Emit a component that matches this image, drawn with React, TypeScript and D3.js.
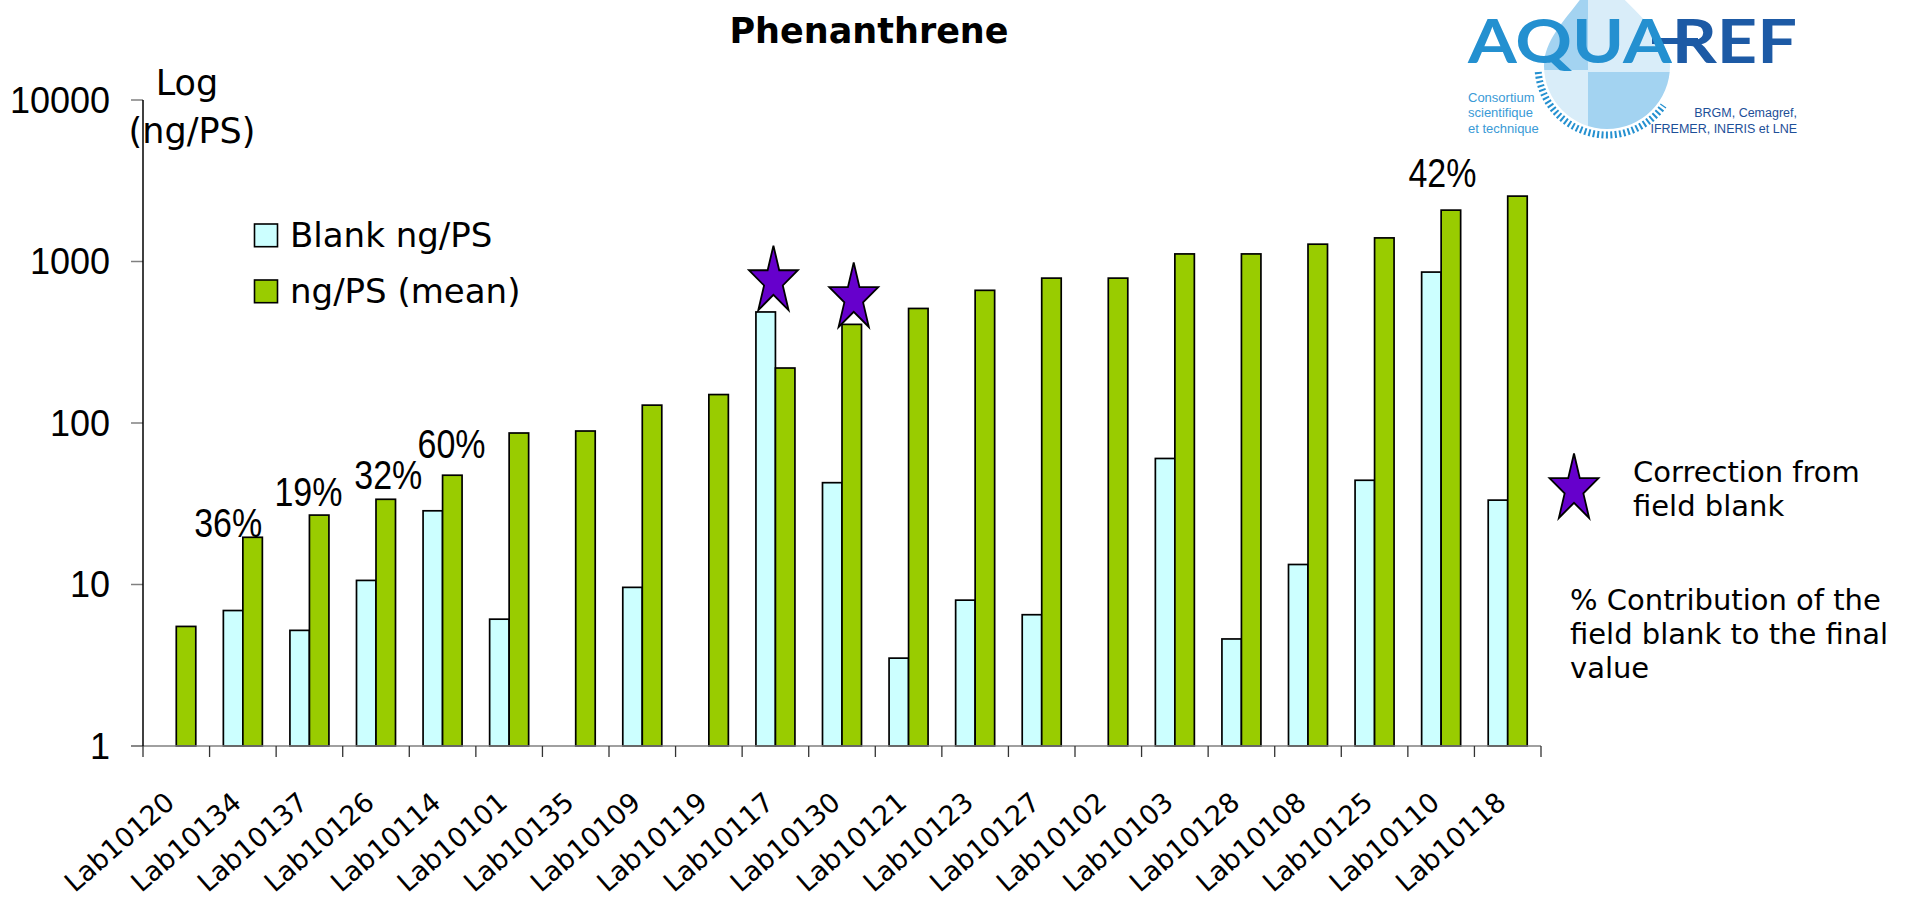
import React from "react";
import * as d3 from "d3";

// ---- data ----
const labs = [
  "Lab10120", "Lab10134", "Lab10137", "Lab10126", "Lab10114", "Lab10101", "Lab10135",
  "Lab10109", "Lab10119", "Lab10117", "Lab10130", "Lab10121", "Lab10123", "Lab10127",
  "Lab10102", "Lab10103", "Lab10128", "Lab10108", "Lab10125", "Lab10110", "Lab10118",
];
const blankValues: (number | null)[] = [
  null, 6.9, 5.2, 10.6, 28.6, 6.1, null, 9.6, null, 487, 42.7, 3.5, 8.0, 6.5, null, 60.3,
  4.6, 13.3, 44.2, 860, 33.3,
];
const meanValues: number[] = [
  5.5, 19.6, 26.9, 33.7, 47.5, 86.7, 89.2, 129, 150, 219, 408, 512, 663, 789, 789, 1114,
  1114, 1280, 1400, 2080, 2540,
];
const yTicks = [1, 10, 100, 1000, 10000];
const seriesNames = ["Blank ng/PS", "ng/PS (mean)"];

// percentage annotations (contribution of the field blank)
const pctLabs = ["Lab10134", "Lab10137", "Lab10126", "Lab10114", "Lab10110"];
const pctTexts = ["36%", "19%", "32%", "60%", "42%"];
const pctAt = [19.8, 30.6, 38.9, 61, 2900];

// stars: correction from field blank
const starLabs = ["Lab10117", "Lab10130"];
const starAt = [500, 393];

const SANS = "'DejaVu Sans', Verdana, sans-serif";
const ARIAL = "'Liberation Sans', Arial, sans-serif";
const BLANK_FILL = "#CCFFFF";
const MEAN_FILL = "#99CC00";
const STAR_FILL = "#6600CC";

function starPoints(cx: number, yb: number, w: number, h: number): string {
  const sx = w / (2 * Math.cos(Math.PI / 10));
  const sy = h / (1 + Math.cos(Math.PI / 5));
  const cy = yb - Math.cos(Math.PI / 5) * sy;
  const pts: string[] = [];
  for (let k = 0; k < 10; k++) {
    const r = k % 2 === 0 ? 1 : 0.382;
    const a = -Math.PI / 2 + (k * Math.PI) / 5;
    pts.push(`${cx + r * Math.cos(a) * sx},${cy + r * Math.sin(a) * sy}`);
  }
  return pts.join(" ");
}

function Logo() {
  const cx = 1607, cy = 66, r = 63;
  const drop = `M 1597,-30 C 1585,5 ${cx - r},30 ${cx - r},${cy} A ${r} ${r} 0 0 0 ${cx + r},${cy} C ${cx + r},35 1625,5 1597,-30 Z`;
  const ar = 69;
  const a0 = (175 * Math.PI) / 180, a1 = (35 * Math.PI) / 180;
  const arc = `M ${cx + ar * Math.cos(a0)},${cy + ar * Math.sin(a0)} A ${ar} ${ar} 0 0 0 ${cx + ar * Math.cos(a1)},${cy + ar * Math.sin(a1)}`;
  return (
    <g>
      <defs>
        <clipPath id="dropClip">
          <path d={drop} />
        </clipPath>
      </defs>
      <g clipPath="url(#dropClip)">
        <rect x={1500} y={-40} width={88} height={110} fill="#a3d3f1" />
        <rect x={1588} y={-40} width={112} height={112} fill="#d9edf9" />
        <rect x={1500} y={70} width={88} height={80} fill="#d9edf9" />
        <rect x={1588} y={72} width={112} height={80} fill="#a3d3f1" />
      </g>
      <path d={arc} fill="none" stroke="#2490d0" strokeWidth={7} strokeDasharray="2 2.4" />
      <rect x={1652} y={38} width={46} height={6} fill="#1d5aa5" />
      <text x={1468} y={63} fontFamily="Lato, 'DejaVu Sans', sans-serif" fontWeight={700}
        fontSize={62} textLength={329} lengthAdjust="spacingAndGlyphs">
        <tspan fill="#2490d0">AQUA</tspan>
        <tspan fill="#1d5aa5">REF</tspan>
      </text>
      <g fontFamily={ARIAL} fontSize={13} fill="#3a9ad6">
        <text x={1468} y={102}>Consortium</text>
        <text x={1468} y={117}>scientifique</text>
        <text x={1468} y={133}>et technique</text>
      </g>
      <g fontFamily={ARIAL} fontSize={12.5} fill="#1d4f98" textAnchor="end">
        <text x={1797} y={117}>BRGM, Cemagref,</text>
        <text x={1797} y={133}>IFREMER, INERIS et LNE</text>
      </g>
    </g>
  );
}

export default function App() {
  const W = 1908, H = 900;
  const left = 143, right = 1541, top = 100, base = 746;

  const x = d3.scaleBand<string>().domain(labs).range([left, right]).paddingInner(0).paddingOuter(0);
  const step = x.step();
  const barW = 19.5;
  const sub = d3.scaleBand<string>().domain(["blank", "mean"]).range([-barW, barW]);
  const y = d3.scaleLog().domain([1, 10000]).range([base, top]);
  const cx = (lab: string) => (x(lab) as number) + step / 2;

  const pctDx = [-0.22, -0.015, 0.185, 0.135, 0.02];
  const starDx = [-0.03, 0.176];

  return (
    <svg width={W} height={H} style={{ position: "absolute", left: 0, top: 0 }}
      xmlns="http://www.w3.org/2000/svg">
      <rect x={0} y={0} width={W} height={H} fill="#fff" />

      {/* title */}
      <text x={869} y={43} textAnchor="middle" fontFamily={SANS} fontWeight="bold" fontSize={35}>
        Phenanthrene
      </text>

      <Logo />

      {/* y axis title */}
      <g fontFamily={SANS} fontSize={35} textAnchor="middle">
        <text x={187} y={95}>Log</text>
        <text x={192} y={143}>(ng/PS)</text>
      </g>

      {/* y ticks */}
      {yTicks.map((t) => (
        <g key={t}>
          <line x1={left - 12} x2={left} y1={y(t)} y2={y(t)} stroke="#808080" strokeWidth={1.5} />
          <text x={110} y={y(t) + 12.8} textAnchor="end" fontFamily={ARIAL} fontSize={36}>
            {t}
          </text>
        </g>
      ))}

      {/* bars */}
      {labs.map((lab, i) => {
        const c = cx(lab);
        const b = blankValues[i];
        const m = meanValues[i];
        return (
          <g key={lab} stroke="#000" strokeWidth={1.7}>
            {b !== null && (
              <rect x={c + (sub("blank") as number)} y={y(b)} width={sub.bandwidth()}
                height={base - y(b)} fill={BLANK_FILL} />
            )}
            <rect x={c + (sub("mean") as number)} y={y(m)} width={sub.bandwidth()}
              height={base - y(m)} fill={MEAN_FILL} />
          </g>
        );
      })}

      {/* axes lines */}
      <line x1={left - 12} x2={right} y1={base} y2={base} stroke="#808080" strokeWidth={1.5} />
      <line x1={left} x2={left} y1={top} y2={base} stroke="#000" strokeWidth={1.5} />
      {d3.range(labs.length + 1).map((k) => (
        <line key={k} x1={left + k * step} x2={left + k * step} y1={base} y2={base + 11}
          stroke="#333" strokeWidth={1.3} />
      ))}

      {/* x labels */}
      {labs.map((lab) => {
        const px = cx(lab);
        const py = 805;
        return (
          <text key={lab} x={px} y={py} transform={`rotate(-41 ${px} ${py})`} textAnchor="end"
            fontFamily={SANS} fontSize={27}>
            {lab}
          </text>
        );
      })}

      {/* percentage annotations */}
      {pctLabs.map((lab, i) => (
        <text key={lab} x={cx(lab) + pctDx[i] * step} y={y(pctAt[i])} textAnchor="middle"
          fontFamily={ARIAL} fontSize={40} textLength={68} lengthAdjust="spacingAndGlyphs">
          {pctTexts[i]}
        </text>
      ))}

      {/* stars */}
      {starLabs.map((lab, i) => (
        <polygon key={lab} points={starPoints(cx(lab) + starDx[i] * step, y(starAt[i]), 49, 64.5)}
          fill={STAR_FILL} stroke="#000" strokeWidth={1.8} strokeLinejoin="miter" />
      ))}

      {/* legend */}
      <g fontFamily={SANS} fontSize={34}>
        <rect x={254.5} y={224} width={23} height={22.7} fill={BLANK_FILL} stroke="#000" strokeWidth={1.6} />
        <text x={290} y={247}>{seriesNames[0]}</text>
        <rect x={254.5} y={280} width={23} height={22.7} fill={MEAN_FILL} stroke="#000" strokeWidth={1.6} />
        <text x={290} y={303}>{seriesNames[1]}</text>
      </g>

      {/* side notes */}
      <polygon points={starPoints(1574, 518, 49, 64.5)} fill={STAR_FILL} stroke="#000" strokeWidth={1.8} />
      <g fontFamily={SANS} fontSize={29}>
        <text x={1633} y={482}>Correction from</text>
        <text x={1633} y={516}>field blank</text>
        <text x={1570} y={610}>% Contribution of the</text>
        <text x={1570} y={644}>field blank to the final</text>
        <text x={1570} y={678}>value</text>
      </g>
    </svg>
  );
}
